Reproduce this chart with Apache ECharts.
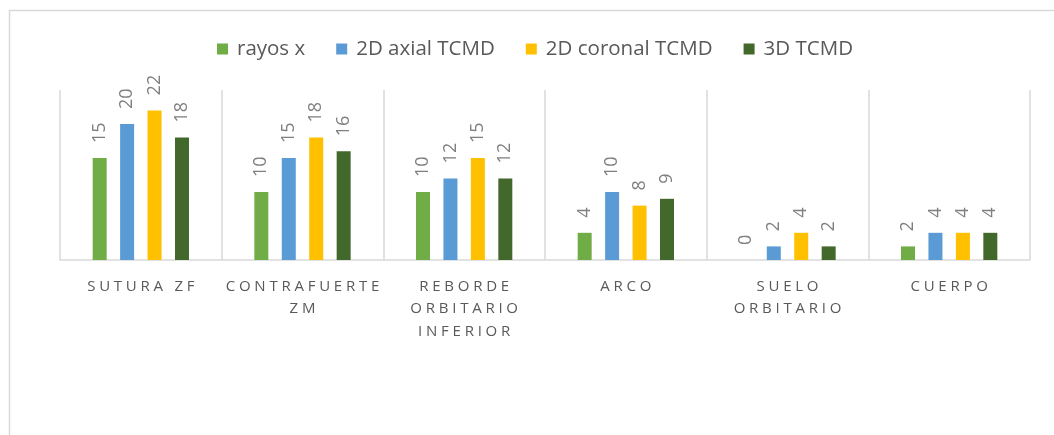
<!DOCTYPE html>
<html>
<head>
<meta charset="utf-8">
<script src="https://cdn.jsdelivr.net/npm/echarts@6/dist/echarts.min.js"></script>
<style>
  html, body { margin: 0; padding: 0; background: #fff; }
  #chart { width: 1054px; height: 435px; }
</style>
</head>
<body>
<div id="chart"></div>
<script>
// Fracture sites and how many were detected by each imaging method
const categories = ['SUTURA ZF', 'CONTRAFUERTE ZM', 'REBORDE ORBITARIO INFERIOR', 'ARCO', 'SUELO ORBITARIO', 'CUERPO'];
const seriesNames = ['rayos x', '2D axial TCMD', '2D coronal TCMD', '3D TCMD'];
const rayosX = [15, 10, 10, 4, 0, 2];
const axial2D = [20, 15, 12, 10, 2, 4];
const coronal2D = [22, 18, 15, 8, 4, 4];
const tcmd3D = [18, 16, 12, 9, 2, 4];
const colors = ['#70AD47', '#5B9BD5', '#FFC000', '#43682B'];

const FONT = '"Open Sans", "Noto Sans", sans-serif';

// Wrap words into lines of at most 12 characters, then space the letters out
function spacedLabel(text) {
  const words = text.split(' ');
  const lines = [];
  let cur = '';
  words.forEach(w => {
    const trial = cur ? cur + ' ' + w : w;
    if (cur && trial.length > 12) { lines.push(cur); cur = w; }
    else cur = trial;
  });
  if (cur) lines.push(cur);
  return lines.map(l => l.split('').join('\u2005')).join('\n');
}

const values = [rayosX, axial2D, coronal2D, tcmd3D];

const chart = echarts.init(document.getElementById('chart'), null, { renderer: 'canvas' });
chart.setOption({
  animation: false,
  backgroundColor: '#fff',
  color: colors,
  graphic: [{
    type: 'rect',
    shape: { x: 9.5, y: 10.5, width: 1200, height: 600 },
    style: { fill: 'none', stroke: '#D9D9D9', lineWidth: 1.5 },
    silent: true,
    z: -1
  }],
  legend: {
    left: 212,
    top: 32,
    itemWidth: 11,
    itemHeight: 11,
    itemGap: 31,
    icon: 'rect',
    textStyle: {
      color: '#595959', fontSize: 20.5, fontFamily: FONT,
      lineHeight: 24, padding: [0, 0, 0, 4]
    },
    data: seriesNames
  },
  grid: { left: 60, right: 24, top: 90, bottom: 175, containLabel: false },
  xAxis: {
    type: 'category',
    data: categories,
    axisLine: { lineStyle: { color: '#D9D9D9', width: 1.5 } },
    axisTick: { show: false },
    splitLine: { show: true, lineStyle: { color: '#D9D9D9', width: 1.5 } },
    axisLabel: {
      color: '#595959',
      fontSize: 15,
      fontFamily: FONT,
      lineHeight: 22.5,
      margin: 15,
      interval: 0,
      formatter: spacedLabel
    }
  },
  yAxis: {
    type: 'value',
    min: 0,
    max: 25,
    show: false,
    splitLine: { show: false }
  },
  series: seriesNames.map((name, i) => ({
    name: name,
    type: 'bar',
    data: values[i],
    barWidth: 14,
    barGap: '96%',
    itemStyle: { color: colors[i] },
    label: {
      show: true,
      position: 'top',
      rotate: 90,
      align: 'left',
      verticalAlign: 'middle',
      distance: 15,
      color: '#7F7F7F',
      fontSize: 18,
      fontFamily: FONT
    }
  }))
});
</script>
</body>
</html>
